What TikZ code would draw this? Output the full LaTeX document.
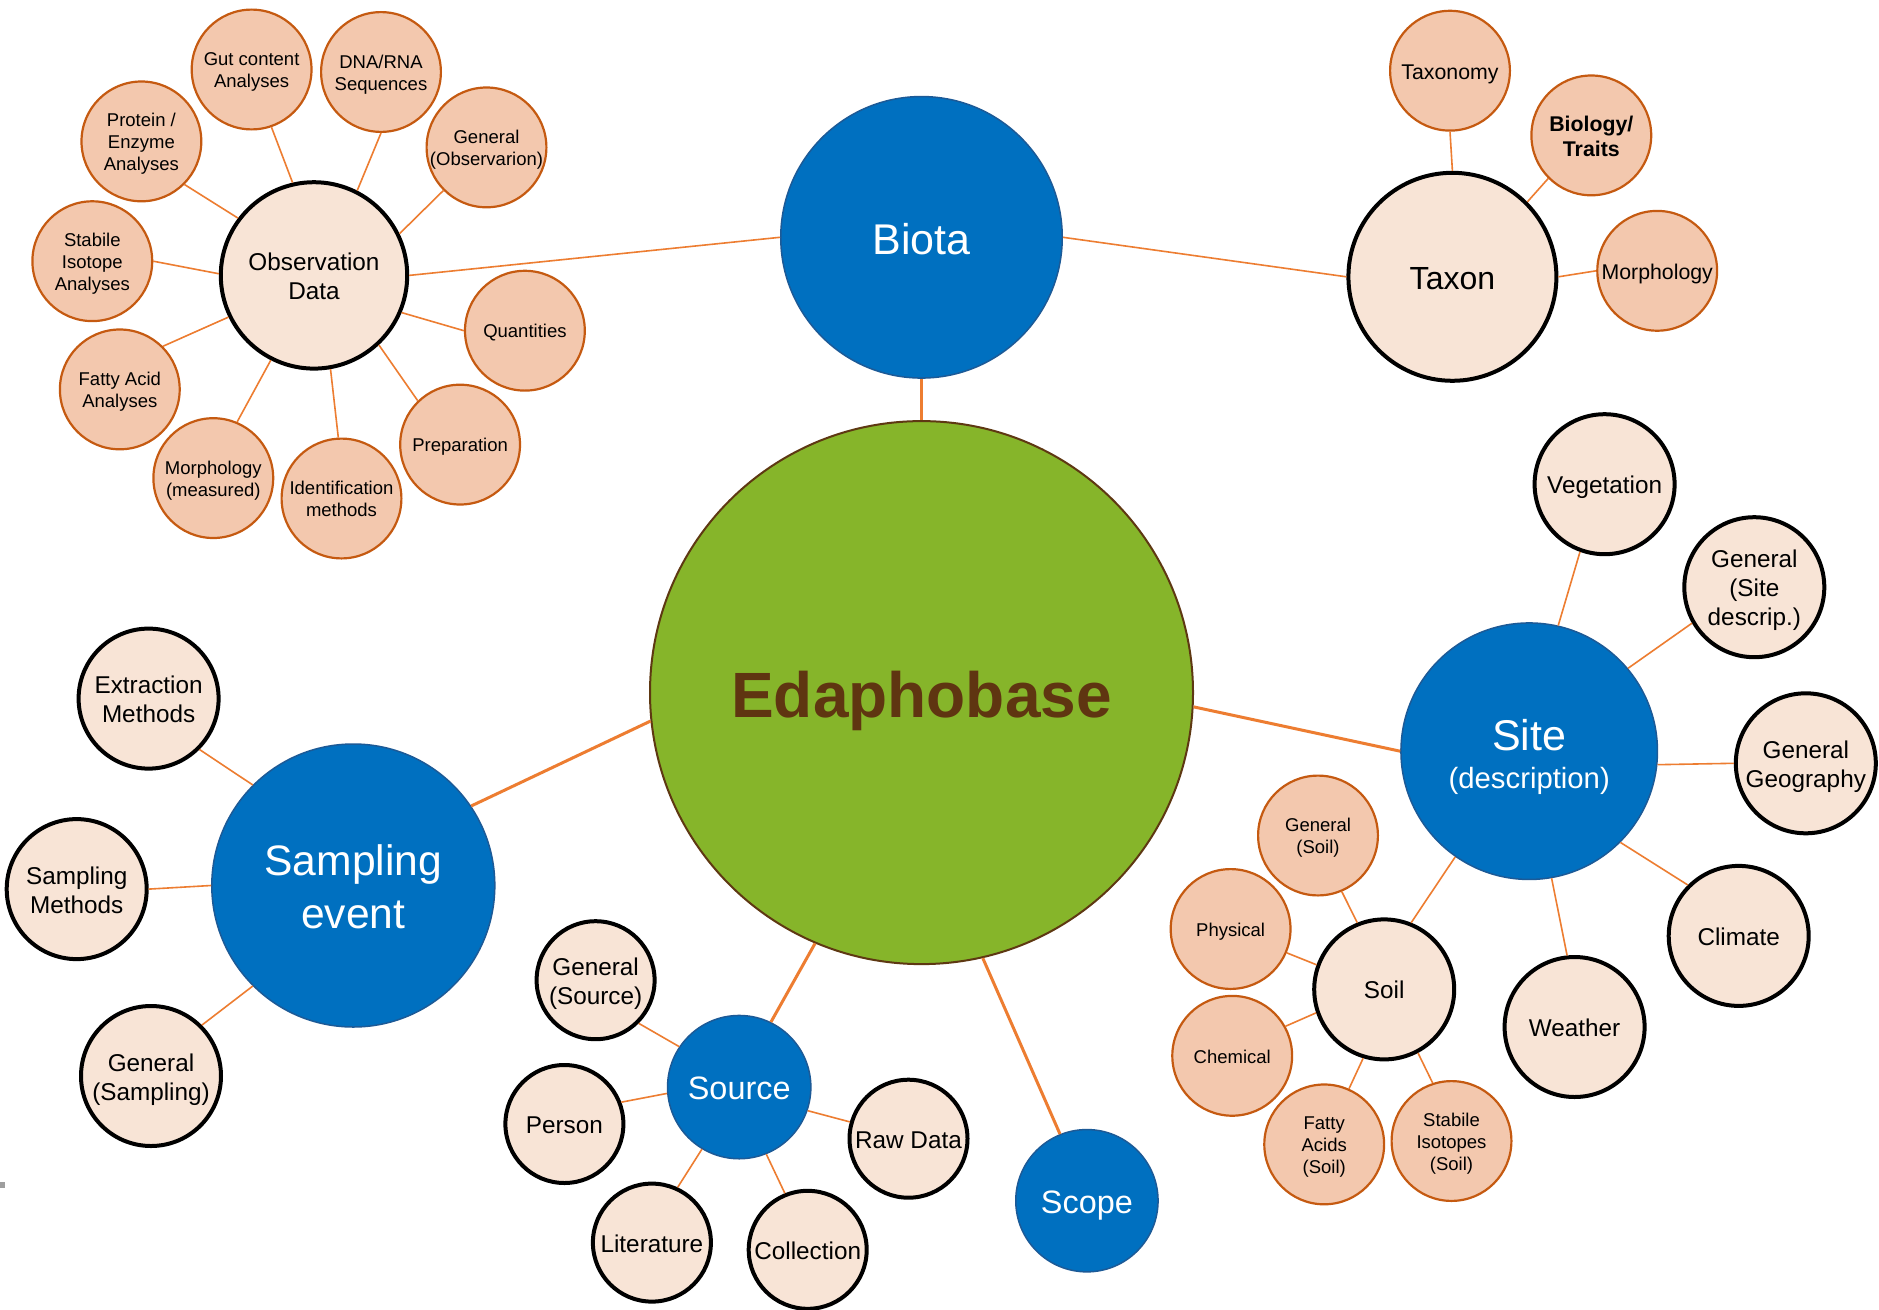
\documentclass[tikz,border=0pt]{standalone}
\usepackage{fontspec}
\setmainfont{Liberation Sans}
\definecolor{blueF}{HTML}{0070C0}
\definecolor{blueD}{HTML}{1C5A97}
\definecolor{greenF}{HTML}{86B52A}
\definecolor{brownD}{HTML}{5E3812}
\definecolor{brownT}{HTML}{5F3511}
\definecolor{creamF}{HTML}{F8E4D6}
\definecolor{orangeF}{HTML}{F3C8AE}
\definecolor{orangeD}{HTML}{C55A11}
\definecolor{connC}{HTML}{ED7D31}
\newcommand\mystrut{\rule[-0.212em]{0pt}{1.212em}}
\newcommand\topstr{\rule{0pt}{1em}}
\newcommand\botstr{\rule[-0.212em]{0pt}{0.212em}}
\tikzset{
  basec/.style={circle, inner sep=-6pt, align=center, text=black},
  orangec/.style={basec, draw=orangeD, fill=orangeF, line width=2.2pt, minimum size=119.8pt, font=\fontsize{18.5}{22}\selectfont},
  orangetx/.style={orangec, font=\fontsize{21.3}{25.4}\selectfont},
  creamc/.style={basec, draw=black, fill=creamF, line width=4pt, minimum size=140pt, font=\fontsize{24.3}{29}\selectfont},
  creamsm/.style={creamc, minimum size=118pt},
  bluec/.style={basec, draw=blueD, fill=blueF, line width=1.5pt, text=white},
  link/.style={draw=connC, line width=1.6pt},
  thicklink/.style={draw=connC, line width=3pt},
}
\begin{document}
\begin{tikzpicture}[x=1pt,y=-1pt]
\useasboundingbox (0,0) rectangle (1879,1309);
\fill[white] (0,0) rectangle (1879,1309);
\fill[black!38] (0,1182) rectangle (5,1188);

% main nodes
\node[circle, draw=brownD, fill=greenF, line width=2pt, minimum size=543pt, inner sep=0pt,
      text=brownT, font=\fontsize{64}{75}\selectfont\bfseries] (edaph) at (921.5,692.6) {\mystrut Edaphobase};
\node[bluec, minimum size=281.5pt, font=\fontsize{43}{50}\selectfont] (biota) at (921.5,237.3) {\mystrut Biota};
\node[bluec, minimum size=256.5pt, font=\fontsize{43}{38.5}\selectfont] (site) at (1529.2,751.2)
  {\topstr Site\\\fontsize{29.3}{38.5}\selectfont (description)\botstr};
\node[bluec, minimum size=283pt, font=\fontsize{42.6}{52.7}\selectfont] (samp) at (353.3,885.5) {\topstr Sampling\\event\botstr};
\node[bluec, minimum size=143.3pt, font=\fontsize{32.4}{38}\selectfont] (source) at (739.2,1087.1) {\mystrut Source};
\node[bluec, minimum size=142.3pt, font=\fontsize{32.4}{38}\selectfont] (scope) at (1086.9,1200.7) {\mystrut Scope};

% observation cluster
\node[creamc, minimum size=186.4pt] (obs) at (314,275.4) {\topstr Observation\\Data\botstr};
\node[orangec] (gut) at (251.6,69.5) {\topstr Gut content\\Analyses\botstr};
\node[orangec] (dna) at (381,72) {\topstr DNA/RNA\\Sequences\botstr};
\node[orangec] (genobs) at (486.5,147.4) {\topstr General\\(Observarion)\botstr};
\node[orangec] (protein) at (141.4,141.4) {\topstr Protein /\\Enzyme\\Analyses\botstr};
\node[orangec] (stabile) at (92.3,261.2) {\topstr Stabile\\Isotope\\Analyses\botstr};
\node[orangec] (fatty) at (119.8,389.4) {\topstr Fatty Acid\\Analyses\botstr};
\node[orangec] (morphm) at (213.3,478.1) {\topstr Morphology\\(measured)\botstr};
\node[orangec] (ident) at (341.5,498.5) {\topstr Identification\\methods\botstr};
\node[orangec] (prep) at (460.1,444.6) {\mystrut Preparation};
\node[orangec] (quant) at (524.9,330.7) {\mystrut Quantities};

% taxon cluster
\node[creamc, minimum size=208pt, font=\fontsize{32}{38}\selectfont] (taxon) at (1452.4,276.8) {\mystrut Taxon};
\node[orangetx] (taxonomy) at (1450,70.7) {\mystrut Taxonomy};
\node[orangetx, font=\fontsize{21.3}{25.4}\selectfont\bfseries] (biology) at (1591.3,135.4) {\topstr Biology/\\Traits\botstr};
\node[orangetx] (morph) at (1657.2,270.8) {\mystrut Morphology};

% site cluster
\node[creamc] (veg) at (1604.6,484.2) {\mystrut Vegetation};
\node[creamc] (gensite) at (1754.3,587.2) {\topstr General\\(Site\\descrip.)\botstr};
\node[creamc] (gengeo) at (1805.8,763.3) {\topstr General\\Geography\botstr};
\node[creamc] (climate) at (1738.7,935.9) {\mystrut Climate};
\node[creamc] (weather) at (1574.6,1027) {\mystrut Weather};
\node[creamc] (soil) at (1384.2,989.4) {\mystrut Soil};
\node[orangec] (gensoil) at (1318,835.5) {\topstr General\\(Soil)\botstr};
\node[orangec] (physical) at (1230.6,929) {\mystrut Physical};
\node[orangec] (chemical) at (1232.2,1055.8) {\mystrut Chemical};
\node[orangec] (fattysoil) at (1324.2,1144.4) {\topstr Fatty\\Acids\\(Soil)\botstr};
\node[orangec] (stabsoil) at (1451.5,1141) {\topstr Stabile\\Isotopes\\(Soil)\botstr};

% sampling cluster
\node[creamc] (extr) at (148.6,698.6) {\topstr Extraction\\Methods\botstr};
\node[creamc] (sampm) at (76.7,889.1) {\topstr Sampling\\Methods\botstr};
\node[creamc] (gensamp) at (151,1076) {\topstr General\\(Sampling)\botstr};

% source cluster
\node[creamsm] (gensrc) at (595.6,980.2) {\topstr General\\(Source)\botstr};
\node[creamsm] (person) at (564.4,1124) {\mystrut Person};
\node[creamsm] (rawdata) at (908.5,1138.7) {\mystrut Raw Data};
\node[creamsm] (lit) at (651.9,1242.6) {\mystrut Literature};
\node[creamsm] (coll) at (807.7,1249.8) {\mystrut Collection};

% connectors
\draw[link] (gut.-71) -- (obs.103);
\draw[link] (dna.-90) -- (obs.63);
\draw[link] (genobs.225) -- (obs.26);
\draw[link] (protein.-45) -- (obs.143);
\draw[link] (stabile.0) -- (obs.179);
\draw[link] (fatty.45) -- (obs.206);
\draw[link] (morphm.67) -- (obs.243);
\draw[link] (ident.93) -- (obs.280);
\draw[link] (prep.134) -- (obs.313);
\draw[link] (quant.180) -- (obs.337);
\draw[link] (obs.east) -- (biota.west);
\draw[link] (biota.east) -- (taxon.west);
\draw[thicklink] (biota.south) -- (edaph.north);
\draw[link] (taxonomy.south) -- (taxon.north);
\draw[link] (biology.225) -- (taxon.45);
\draw[link] (morph.west) -- (taxon.east);

\draw[thicklink] (edaph.186.5) -- (samp.34);
\draw[thicklink] (edaph.357.7) -- (site.west);
\draw[thicklink] (edaph.247) -- (source.64);
\draw[thicklink] (edaph.283.4) -- (scope.112);

\draw[link] (extr.-45) -- (samp.135);
\draw[link] (sampm.east) -- (samp.west);
\draw[link] (gensamp.45) -- (samp.225);

\draw[link] (gensrc.-45) -- (source.146);
\draw[link] (person.21) -- (source.185);
\draw[link] (rawdata.164) -- (source.341);
\draw[link] (lit.65) -- (source.239);
\draw[link] (coll.112) -- (source.292);

\draw[link] (veg.250) -- (site.77);
\draw[link] (gensite.210) -- (site.40);
\draw[link] (gengeo.west) -- (site.354);
\draw[link] (climate.135) -- (site.315);
\draw[link] (weather.96) -- (site.280);
\draw[link] (soil.68) -- (site.235.5);

\draw[link] (gensoil.-67) -- (soil.112);
\draw[link] (physical.-23) -- (soil.160);
\draw[link] (chemical.29) -- (soil.199);
\draw[link] (fattysoil.66) -- (soil.253);
\draw[link] (stabsoil.108) -- (soil.298);
\end{tikzpicture}
\end{document}
